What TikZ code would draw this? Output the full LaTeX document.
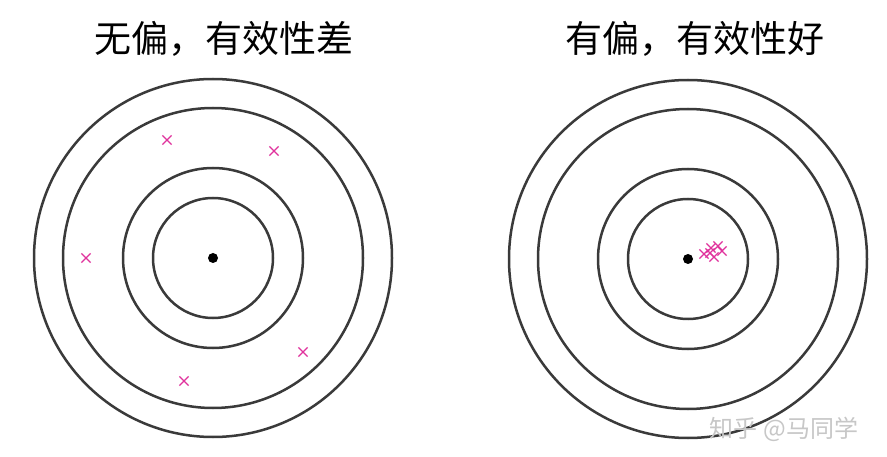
\documentclass[tikz,border=0pt]{standalone}
\usepackage{fontspec}
\newfontfamily\cjk{Noto Sans CJK SC}
\usetikzlibrary{shapes.misc}
\definecolor{ring}{HTML}{3A3A3A}
\definecolor{hit}{HTML}{E0329C}
\tikzset{
  ringline/.style={draw=ring, line width=2.5pt},
  bull/.style={circle, fill=black, inner sep=0pt, minimum size=10pt},
  xmark/.style={cross out, draw=hit, line width=1.2pt, inner sep=0pt, minimum size=8pt},
  ttl/.style={font=\cjk\fontsize{37}{40}\selectfont, inner sep=0pt, text=black},
  wmark/.style={font=\cjk\fontsize{24}{26}\selectfont, inner sep=0pt, text=black!22}
}
\begin{document}
\begin{tikzpicture}[x=1pt,y=-1pt]
\useasboundingbox[fill=white] (0,0) rectangle (887,457);
% left target
\node[bull] (cL) at (213,258) {};
\foreach \r in {179,150,90,60} \draw[ringline] (cL.center) circle[radius=\r pt];
\node[xmark] (l1) at (167,140) {};
\node[xmark] (l2) at (274,151) {};
\node[xmark] (l3) at (86,258) {};
\node[xmark] (l4) at (303,352) {};
\node[xmark] (l5) at (184,381) {};
% right target
\node[bull] (cR) at (688,259) {};
\foreach \r in {179,150,90,60} \draw[ringline] (cR.center) circle[radius=\r pt];
\node[xmark] (r1) at (704,254) {};
\node[xmark] (r2) at (711,248) {};
\node[xmark] (r3) at (718,246) {};
\node[xmark] (r4) at (722,251) {};
\node[xmark] (r5) at (714,257) {};
\node[xmark] (r6) at (710,253) {};
% titles
\node[ttl] (tL) at (224,39) {无偏，有效性差};
\node[ttl] (tR) at (695,39) {有偏，有效性好};
% watermark
\node[wmark] (wm) at (784,429) {知乎 @马同学};
\end{tikzpicture}
\end{document}
